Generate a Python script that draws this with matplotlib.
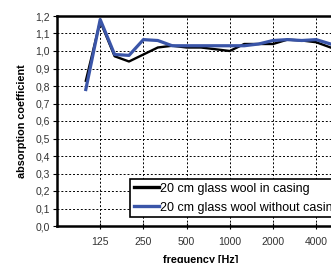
import matplotlib
matplotlib.use("Agg")
import matplotlib.pyplot as plt
from matplotlib.ticker import FuncFormatter

plt.rcParams['font.family'] = ['Liberation Sans', 'DejaVu Sans']

# third-octave bands 100 Hz .. 5000 Hz, placed on a category axis
freqs = [100, 125, 160, 200, 250, 315, 400, 500, 630, 800, 1000,
         1250, 1600, 2000, 2500, 3150, 4000, 5000]
casing = [0.83, 1.17, 0.97, 0.94, 0.98, 1.02, 1.03, 1.02, 1.02, 1.01, 1.00,
          1.04, 1.04, 1.04, 1.065, 1.06, 1.05, 1.02]
no_casing = [0.78, 1.18, 0.98, 0.975, 1.065, 1.06, 1.03, 1.03, 1.03, 1.03, 1.03,
             1.03, 1.04, 1.06, 1.065, 1.06, 1.065, 1.04]
tick_labels = ['125', '250', '500', '1000', '2000', '4000']
label_casing = '20 cm glass wool in casing'
label_nocasing = '20 cm glass wool without casing'

x = list(range(2, 2 + len(freqs)))
tick_pos = [x[freqs.index(int(t))] for t in tick_labels]

fig = plt.figure(figsize=(3.31, 2.63), dpi=100)
ax = fig.add_axes([57 / 331, 37 / 263, 20 * 14.4 / 331, 210 / 263])

ax.plot(x, casing, color='black', lw=1.7, label=label_casing, zorder=3)
ax.plot(x, no_casing, color='#3a55a8', lw=2.3, label=label_nocasing, zorder=4)

ax.set_xlim(0, 20)
ax.set_ylim(0, 1.2)
ax.set_yticks([i / 10 for i in range(13)])
ax.yaxis.set_major_formatter(FuncFormatter(lambda v, p: f"{v:.1f}".replace('.', ',')))
ax.set_xticks(tick_pos)
ax.set_xticklabels(tick_labels)

ax.grid(True, color='black', linestyle=(0, (2, 2)), linewidth=0.7)
ax.set_axisbelow(True)
for s in ax.spines.values():
    s.set_linewidth(1.8)

ax.tick_params(axis='x', direction='inout', length=4, width=0.8, labelsize=7.5,
               labelcolor='#333333', pad=6)
ax.tick_params(axis='y', direction='out', length=3, width=0.8, labelsize=7.5,
               labelcolor='#333333', pad=2)

ax.set_ylabel('absorption coefficient', fontsize=7.8, fontweight='bold', labelpad=6)
ax.set_xlabel('frequency [Hz]', fontsize=7.8, fontweight='bold', labelpad=6)

leg = ax.legend(loc='upper left', bbox_to_anchor=((130 - 57) / 288, (226 - 179) / 210),
                fontsize=9, frameon=True, fancybox=False, borderaxespad=0,
                handlelength=2.0, handletextpad=0.1, labelspacing=0.55,
                borderpad=0.3, framealpha=1)
leg.get_frame().set_edgecolor('black')
leg.get_frame().set_linewidth(1.2)
for h in leg.get_lines():
    h.set_linewidth(2.4)

fig.savefig('out.png', dpi=100)
